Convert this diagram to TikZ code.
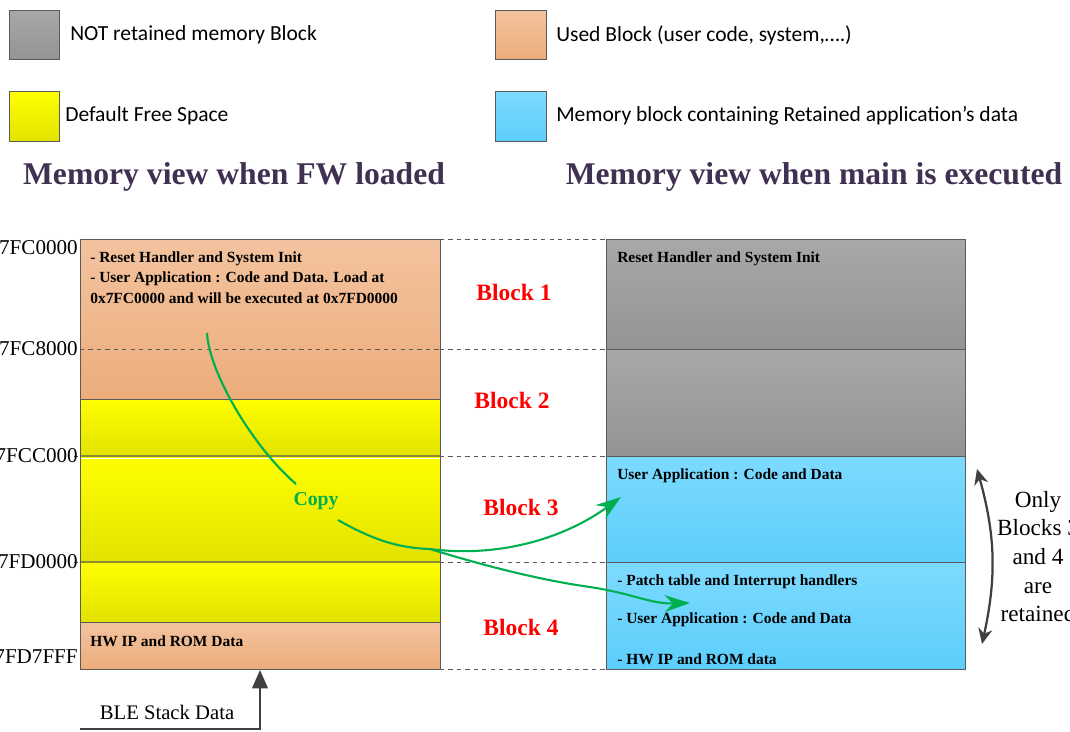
\documentclass[tikz,border=0pt]{standalone}
\usepackage{fontspec}
\setmainfont{Liberation Serif}
\newfontfamily\legendfont{Carlito}
\usetikzlibrary{arrows.meta}
\definecolor{NotTop}{HTML}{A8A8A8}
\definecolor{NotBot}{HTML}{949494}
\definecolor{UsedTop}{HTML}{F3C39F}
\definecolor{UsedBot}{HTML}{ECAD7B}
\definecolor{FreeTop}{HTML}{FFFF00}
\definecolor{FreeBot}{HTML}{E2E200}
\definecolor{KeptTop}{HTML}{7DDAFF}
\definecolor{KeptBot}{HTML}{5CCEFB}
\definecolor{TitlePurple}{HTML}{403152}
\definecolor{CopyGreen}{HTML}{00B050}
\definecolor{FrameGray}{HTML}{5A5A5A}
\definecolor{OliveLine}{HTML}{8C8C30}
\definecolor{ArrowGray}{HTML}{404040}

\tikzset{
  legbox/.style={draw=FrameGray, line width=0.6pt},
  legtext/.style={font=\legendfont\fontsize{15.3}{18}\selectfont, anchor=west, inner sep=0pt},
  viewtitle/.style={font=\bfseries\fontsize{22.5}{26}\selectfont, text=TitlePurple, inner sep=0pt},
  notkept/.style={top color=NotTop, bottom color=NotBot},
  used/.style={top color=UsedTop, bottom color=UsedBot},
  free/.style={top color=FreeTop, bottom color=FreeBot},
  kept/.style={top color=KeptTop, bottom color=KeptBot},
  frame/.style={draw=FrameGray, line width=0.6pt},
  guide/.style={draw=FrameGray, dashed, line width=0.6pt},
  memtext/.style={font=\bfseries\fontsize{11}{13}\selectfont, anchor=west, inner sep=0pt},
  blocklbl/.style={font=\bfseries\fontsize{16.7}{18}\selectfont, text=red, inner sep=0pt},
  addr/.style={font=\fontsize{15}{17}\selectfont, anchor=east, inner sep=0pt},
  copyline/.style={draw=CopyGreen, line width=1.5pt},
  graypointer/.style={draw=ArrowGray, line width=1.6pt}
}

\begin{document}
\begin{tikzpicture}[x=0.025cm, y=-0.025cm]
\useasboundingbox (0,0) rectangle (1070,731);

% Legend
\shade[legbox, notkept] (9,10) rectangle (59,59);
\node[legtext] (legNot) at (70,35) {NOT retained memory Block};
\shade[legbox, free] (9,91) rectangle (59,141);
\node[legtext] (legFree) at (65,116) {Default Free Space};
\shade[legbox, used] (495,10) rectangle (546,59);
\node[legtext] (legUsed) at (556,35) {Used Block (user code, system,….)};
\shade[legbox, kept] (495,91) rectangle (546,141);
\node[legtext] (legKept) at (556,116) {Memory block containing Retained application’s data};

% Titles
\node[viewtitle] (titleFW) at (234,177) {Memory view when FW loaded};
\node[viewtitle] (titleMain) at (814,177) {Memory view when main is executed};

% Dashed guide lines between the two views
\foreach \y in {239,349,456,562,669}
  \draw[guide] (440,\y) -- (606,\y);
\foreach \y in {456,562}
  \draw[guide] (74,\y) -- (80,\y);

% Memory view when FW loaded
\shade[used] (80,239) rectangle (440,399);
\shade[free] (80,399) rectangle (440,456);
\shade[free] (80,456) rectangle (440,562);
\shade[free] (80,562) rectangle (440,622);
\shade[used] (80,622) rectangle (440,669);
\draw[white, line width=0.8pt] (80,458.5) -- (440,458.5);
\draw[OliveLine, line width=0.9pt] (80,456) -- (440,456);
\draw[OliveLine, line width=0.9pt] (80,562) -- (440,562);
\draw[frame] (80,399) -- (440,399);
\draw[frame] (80,622) -- (440,622);
\draw[guide] (80,349) -- (440,349);
\draw[frame] (80,239) rectangle (440,669);

\node[memtext] (leftReset) at (90,259) {- Reset Handler and System Init};
\node[memtext] (leftApp) at (90,279) {- User Application : Code and Data. Load at};
\node[memtext] (leftLoad) at (90,298) {0x7FC0000 and will be executed at 0x7FD0000};
\node[memtext] (leftHw) at (90,641) {HW IP and ROM Data};

% Addresses
\node[addr] (a0) at (78,248) {7FC0000};
\node[addr] (a1) at (78,349) {7FC8000};
\node[addr] (a2) at (78,456) {7FCC000};
\node[addr] (a3) at (78,562) {7FD0000};
\node[addr] (a4) at (78,657) {7FD7FFF};

% Block names
\node[blocklbl] (blk1) at (514,292) {Block 1};
\node[blocklbl] (blk2) at (512,400) {Block 2};
\node[blocklbl] (blk3) at (521,507) {Block 3};
\node[blocklbl] (blk4) at (521,627) {Block 4};

% Memory view when main is executed
\shade[notkept] (606,239) rectangle (965,349);
\shade[notkept] (606,349) rectangle (965,456);
\shade[kept] (606,456) rectangle (965,562);
\shade[kept] (606,562) rectangle (965,669);
\draw[frame] (606,349) -- (965,349);
\draw[frame] (606,456) -- (965,456);
\draw[frame] (606,562) -- (965,562);
\draw[frame] (606,239) rectangle (965,669);

\node[memtext] (rightReset) at (617,259) {Reset Handler and System Init};
\node[memtext] (rightApp) at (617,476) {User Application : Code and Data};
\node[memtext] (rightPatch) at (617,582) {- Patch table and Interrupt handlers};
\node[memtext] (rightUser) at (617,620) {- User Application : Code and Data};
\node[memtext] (rightHw) at (617,659) {- HW IP and ROM data};

% Copy arrows
\node[font=\bfseries\fontsize{14}{16}\selectfont, text=CopyGreen, inner sep=0pt] (copy) at (316,501) {Copy};
\coordinate (cpySrc) at (207,333);
\coordinate (cpyIn) at (296,484);
\coordinate (cpyOut) at (338,520);
\coordinate (cpySplit) at (430,549);
\coordinate (cpyBlk3) at (621,497);
\coordinate (cpyBlk4) at (690,603);
\draw[copyline] (cpySrc) .. controls (209,372) and (252,446) .. (cpyIn);
\draw[copyline, -{Stealth[length=18pt, width=12pt]}] (cpyOut) .. controls (375,541) and (400,548) .. (cpySplit)
  .. controls (500,558) and (565,538) .. (cpyBlk3);
\draw[copyline, -{Stealth[length=18pt, width=12pt]}] (cpySplit) .. controls (485,566) and (540,580) .. (590,587)
  .. controls (635,594) and (650,604) .. (cpyBlk4);

% BLE stack pointer
\node[font=\fontsize{14.7}{16}\selectfont, inner sep=0pt] (ble) at (167,712) {BLE Stack Data};
\coordinate (bleStart) at (80,729);
\coordinate (bleCorner) at (260,729);
\coordinate (bleTarget) at (260,670);
\draw[graypointer, -{Triangle[length=13pt, width=11pt]}] (bleStart) -- (bleCorner) -- (bleTarget);

% Retained range
\coordinate (retTop) at (977,469);
\coordinate (retBot) at (982,644);
\draw[graypointer, {Stealth[length=11pt, width=10pt]}-{Stealth[length=11pt, width=10pt]}] (retTop) to[bend left=14] (retBot);
\node[font=\fontsize{16.5}{20.3}\selectfont, align=center, inner sep=0pt, anchor=north] (retNote) at (1038,491) {Only\\Blocks 3\\and 4\\are\\retained};
\end{tikzpicture}
\end{document}
